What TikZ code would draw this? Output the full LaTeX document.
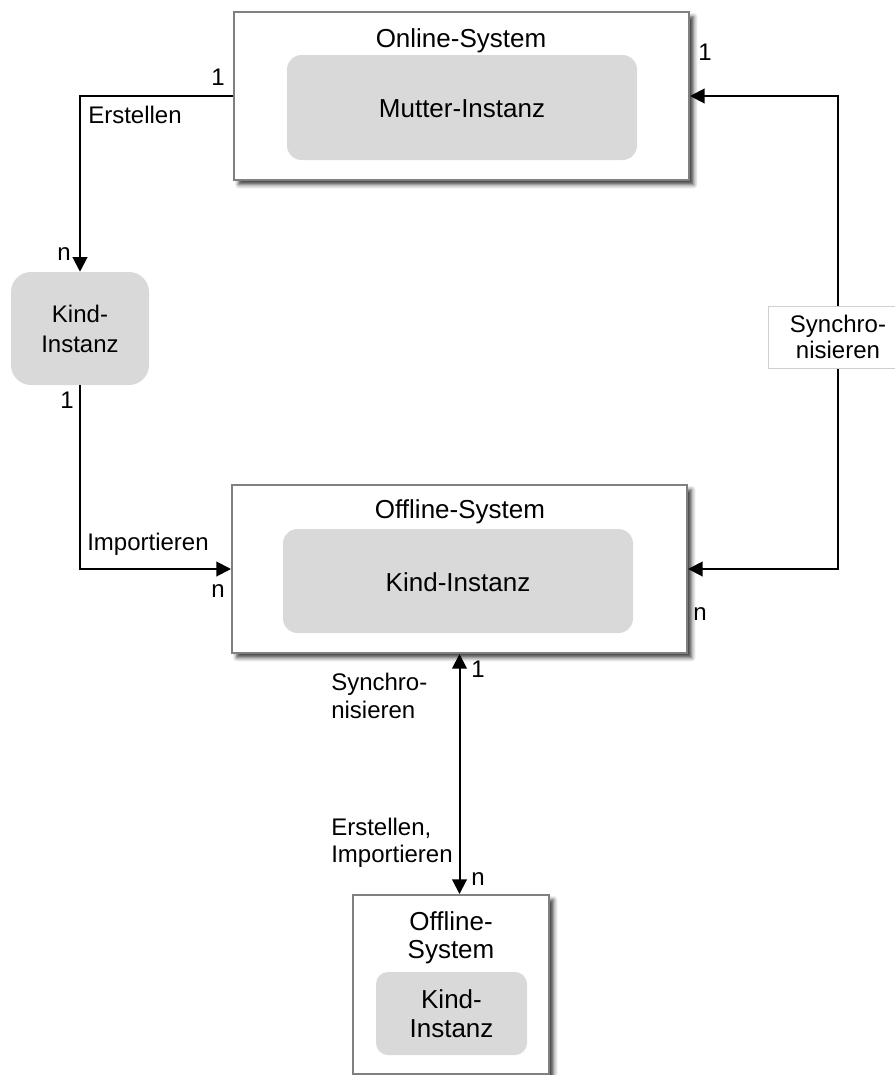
\documentclass[tikz,border=0pt]{standalone}
\usepackage{fontspec}
\setmainfont{Liberation Sans}
\usetikzlibrary{arrows.meta,shadows.blur}
\definecolor{boxgrey}{HTML}{808080}
\definecolor{instgrey}{HTML}{D9D9D9}
\definecolor{tagline}{HTML}{D0D0D0}
\begin{document}
\begin{tikzpicture}[x=0.75pt,y=-0.75pt,
  sysbox/.style={draw=boxgrey, line width=1.5pt, fill=white, inner sep=0pt,
    blur shadow={shadow xshift=3.5pt, shadow yshift=-3.5pt,
      shadow blur radius=3pt, shadow opacity=75}},
  inst/.style={fill=instgrey, draw=none, inner sep=0pt, align=center,
    font=\fontsize{19}{22}\selectfont},
  ttl/.style={font=\fontsize{19.5}{21}\selectfont, inner sep=0pt, align=center},
  lbl/.style={font=\fontsize{18}{20.5}\selectfont, inner sep=0pt, align=left},
  conn/.style={line width=1.5pt, -{Triangle[length=11pt,width=11pt]}},
  biconn/.style={line width=1.5pt, {Triangle[length=11pt,width=11pt]}-{Triangle[length=11pt,width=11pt]}},
  tag/.style={draw=tagline, line width=0.6pt, fill=white, inner sep=0pt, align=center,
    font=\fontsize{18}{20}\selectfont},
]
\useasboundingbox (0,0) rectangle (895,1075);

% Online system with the parent instance
\node[sysbox, minimum width=455*0.75pt, minimum height=168*0.75pt] (online) at (461.5,96) {};
\node[ttl, anchor=base] (onlineT) at (461,47) {Online-System};
\node[inst, rounded corners=11pt, minimum width=350*0.75pt, minimum height=105*0.75pt] (mutter) at (462,107.5) {};
\node[ttl, anchor=base] (mutterT) at (462,117) {Mutter-Instanz};

% Stand-alone child instance
\node[inst, rounded corners=15pt, minimum width=138*0.75pt, minimum height=113*0.75pt,
  font=\fontsize{18}{22.5}\selectfont] (kind) at (80,328.5) {Kind-\\Instanz};

% Offline system with its child instance
\node[sysbox, minimum width=455*0.75pt, minimum height=168*0.75pt] (offline) at (459.5,569) {};
\node[ttl, anchor=base] (offlineT) at (460,518) {Offline-System};
\node[inst, rounded corners=11pt, minimum width=350*0.75pt, minimum height=104*0.75pt] (kindoff) at (458,581) {};
\node[ttl, anchor=base] (kindoffT) at (458,591) {Kind-Instanz};

% Second offline system
\node[sysbox, minimum width=196*0.75pt, minimum height=179*0.75pt] (offline2) at (451,984.5) {};
\node[ttl] (offline2T) at (451,938) {Offline-\\System};
\node[inst, rounded corners=9pt, minimum width=151*0.75pt, minimum height=83*0.75pt,
  font=\fontsize{19.5}{21.5}\selectfont] (kind2) at (451.5,1013.5) {Kind-\\Instanz};

% Connectors
\draw[conn] (online.west) -| (kind.north);
\draw[conn] (kind.south) |- (offline.west);
\coordinate (syncR) at (838,330);
\draw[biconn] (online.east) -| (syncR) |- (offline.east);
\draw[biconn] (offline.south) -- (offline.south |- offline2.north);

% Tag on the right synchronisation line
\node[tag, minimum width=140*0.75pt, minimum height=62*0.75pt] (syncTag) at (838,337) {Synchro-\\nisieren};

% Connector labels and multiplicities
\node[lbl, anchor=base] (m1) at (218,85) {1};
\node[lbl, anchor=base west] (erst) at (88,123) {Erstellen};
\node[lbl, anchor=base] (m2) at (64,260) {n};
\node[lbl, anchor=base] (m3) at (67,408) {1};
\node[lbl, anchor=base west] (imp) at (87,550) {Importieren};
\node[lbl, anchor=base] (m4) at (218,597) {n};
\node[lbl, anchor=base] (m5) at (705,60) {1};
\node[lbl, anchor=base] (m6) at (700,620) {n};
\node[lbl, anchor=base] (m7) at (478,677) {1};
\node[lbl, anchor=base] (m8) at (478,885) {n};
\node[lbl, anchor=west] (sync2) at (331,696) {Synchro-\\nisieren};
\node[lbl, anchor=west] (erstimp) at (331,843) {Erstellen,\\Importieren};
\end{tikzpicture}
\end{document}
